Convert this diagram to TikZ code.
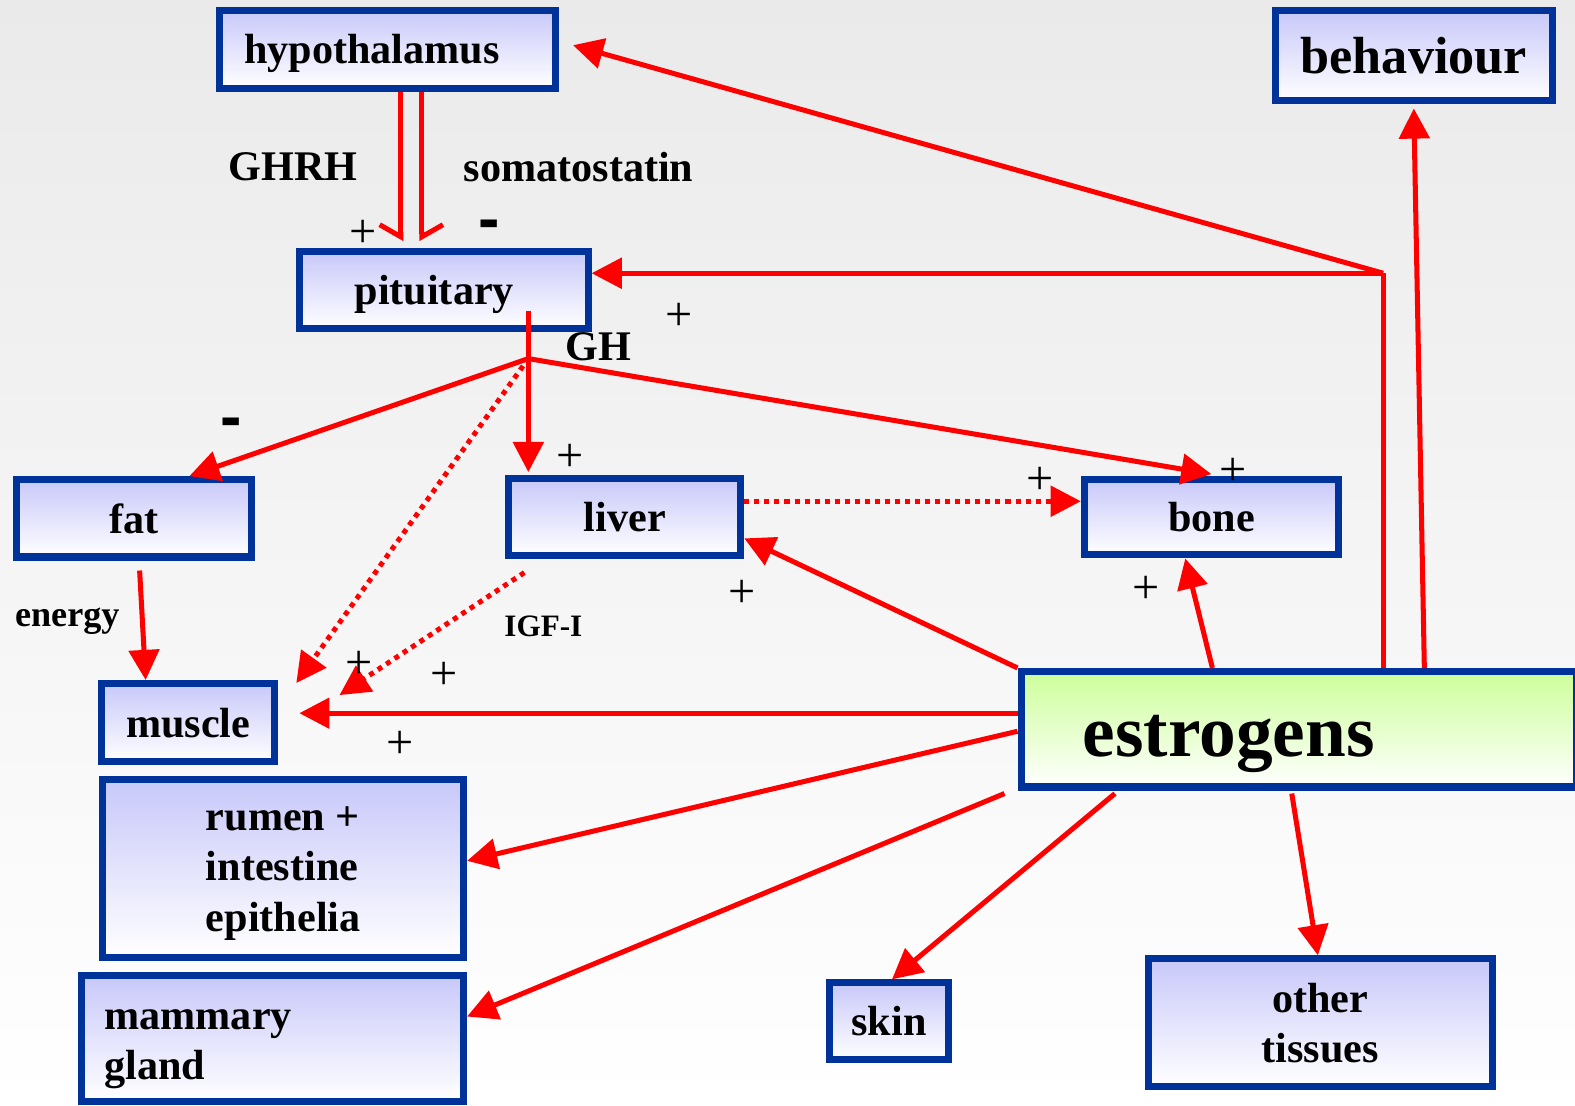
\documentclass[tikz,border=0pt]{standalone}
\usepackage{fontspec}
\setmainfont{Liberation Serif}
\newfontfamily\dashfont{Liberation Sans}
\usetikzlibrary{arrows.meta, positioning}

\definecolor{boxblue}{RGB}{0,51,153}
\definecolor{boxtop}{RGB}{200,200,250}
\definecolor{estrotop}{RGB}{204,255,153}
\definecolor{bgtop}{RGB}{234,234,234}

\begin{document}
\begin{tikzpicture}[x=1pt, y=-1pt,
    organ/.style={draw=boxblue, line width=7pt, top color=boxtop, bottom color=white, inner sep=0pt, text depth=0pt, font=\bfseries\fontsize{42}{50}\selectfont},
    flow/.style={draw=red, line width=5pt, -{Triangle[length=30pt,width=30pt]}},
    dots/.style={flow, dash pattern=on 5pt off 5pt},
    barbl/.style={draw=red, line width=5pt, -{Straight Barb[length=12pt,width=42pt,left]}},
    barbr/.style={draw=red, line width=5pt, -{Straight Barb[length=12pt,width=42pt,right]}},
    sign/.style={font=\fontsize{48}{48}\selectfont},
    minus/.style={font=\dashfont\bfseries\fontsize{64}{64}\selectfont},
    lab/.style={font=\bfseries\fontsize{42}{42}\selectfont}]
    \shade[top color=bgtop, bottom color=white] (0,0) rectangle (1568,1101);
    \useasboundingbox (0,0) rectangle (1568,1101);

    % boxes
    \node[organ, minimum width=334pt, minimum height=78pt, text width=286pt, inner xsep=24pt, align=left] (hyp) at (386,49) {hypothalamus};
    \node[organ, minimum width=276pt, minimum height=90pt, font=\bfseries\fontsize{52}{52}\selectfont] (beh) at (1407.5,55.5) {behaviour};
    \node[organ, minimum width=287pt, minimum height=77pt, text width=178pt, inner xsep=54.5pt, align=left] (pit) at (442,289) {pituitary};
    \node[organ, minimum width=234pt, minimum height=77pt] (fat) at (133.5,516) {fat};
    \node[organ, minimum width=231pt, minimum height=77pt] (liver) at (622,515) {liver};
    \node[organ, minimum width=253pt, minimum height=75pt] (bone) at (1206,515) {bone};
    \node[organ, minimum width=172pt, minimum height=78pt] (muscle) at (187.5,719.5) {muscle};
    \node[organ, top color=estrotop, minimum width=553pt, minimum height=115pt, text width=430pt, inner xsep=61.5pt, align=left, text height=54pt, font=\bfseries\fontsize{73}{73}\selectfont] (estro) at (1293,726) {estrogens};
    \node[organ, minimum width=359pt, minimum height=177pt, align=left, text depth=-8pt] (rumen) at (282,865) {rumen +\\intestine\\epithelia};
    \node[organ, minimum width=380pt, minimum height=125pt, text width=335pt, inner xsep=22.5pt, align=left, text height=20pt, text depth=39pt] (mam) at (271.5,1034) {mammary\\gland};
    \node[organ, minimum width=119pt, minimum height=76pt] (skin) at (885,1016.5) {skin};
    \node[organ, minimum width=342pt, minimum height=127pt, align=center] (other) at (1314.5,1018) {other\\tissues};

    % junctions
    \coordinate (ghj) at (526,357);
    \coordinate (ej) at (1377,272);

    % hypothalamus -> pituitary
    \draw[barbr] ([xshift=13pt]hyp.south) -- ([xshift=-43pt,yshift=7pt]pit.north);
    \draw[barbl] ([xshift=34pt]hyp.south) -- ([xshift=-22pt,yshift=7pt]pit.north);
    \node[lab] (ghrh) at (292,166) {GHRH};
    \node[lab] (soma) at (576,166) {somatostatin};

    % GH
    \draw[draw=red, line width=5pt] ([xshift=84pt,yshift=21pt]pit.south) -- (ghj);
    \draw[flow] (ghj) -- ([xshift=-96pt,yshift=3pt]liver.north);
    \draw[flow] (ghj) -- ([xshift=55pt]fat.north);
    \draw[flow] (ghj) -- ([yshift=2pt]bone.north);
    \draw[dots, shorten <=9pt] (ghj) -- ([xshift=18pt,yshift=-3pt]muscle.north east);
    \node[lab] (gh) at (596,345) {GH};

    % IGF-I
    \draw[dots] ([xshift=19pt,yshift=-13pt]liver.south west) -- ([xshift=61pt,yshift=-15pt]muscle.north east);
    \draw[dots] ([yshift=16pt]liver.east) -- ([yshift=16pt]bone.west);
    \node[lab, font=\bfseries\fontsize{31}{31}\selectfont] (igf) at (541,624) {IGF-I};

    % energy
    \draw[flow] ([xshift=5.5pt,yshift=-10pt]fat.south) -- ([xshift=-42.5pt]muscle.north);
    \node[lab, font=\bfseries\fontsize{36}{36}\selectfont] (energy) at (67,618) {energy};

    % estrogens
    \draw[draw=red, line width=5pt] (ej |- estro.north) -- (ej);
    \draw[flow] (ej) -- (pit.east |- ej);
    \draw[flow] (ej) -- ([xshift=14pt,yshift=4pt]hyp.east);
    \draw[flow] ([xshift=405pt]estro.north west) -- ([yshift=-4pt]beh.south);
    \draw[flow] (estro.north west) -- (liver.-10);
    \draw[flow] ([xshift=194pt]estro.north west) -- ([xshift=-26pt]bone.south);
    \draw[flow] ([yshift=16pt]estro.west) -- ([xshift=21pt,yshift=9.5pt]muscle.east);
    \draw[flow] ([yshift=-2pt]estro.west) -- ([yshift=8pt]rumen.east);
    \draw[flow] ([xshift=-13pt,yshift=-3pt]estro.south west) -- ([yshift=22pt]mam.east);
    \draw[flow] ([xshift=97pt,yshift=-3pt]estro.south west) -- ([xshift=3pt]skin.north);
    \draw[flow] ([xshift=273pt,yshift=-3pt]estro.south west) -- ([xshift=-2.5pt]other.north);

    % signs
    \node[sign] (p1) at (361,233) {+};
    \node[sign] (p2) at (676,315) {+};
    \node[sign] (p3) at (568,456) {+};
    \node[sign] (p4) at (1035,479) {+};
    \node[sign] (p5) at (1228,470) {+};
    \node[sign] (p6) at (739,591) {+};
    \node[sign] (p7) at (1141,587) {+};
    \node[sign] (p8) at (357,662) {+};
    \node[sign] (p9) at (442,673) {+};
    \node[sign] (p10) at (398,742) {+};
    \node[minus] (m1) at (487,229) {-};
    \node[minus] (m2) at (230,426) {-};
\end{tikzpicture}
\end{document}
